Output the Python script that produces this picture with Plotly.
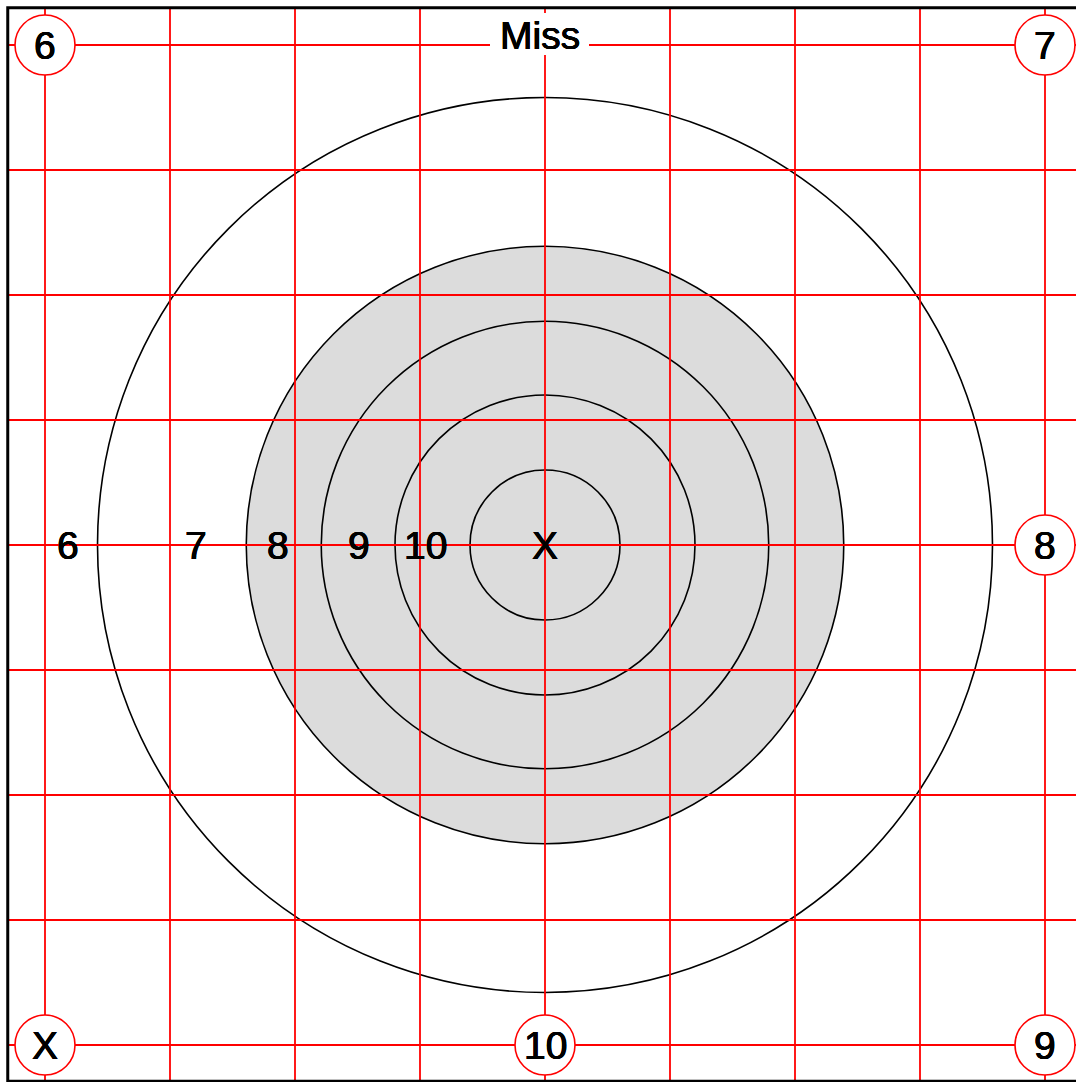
import plotly.graph_objects as go

# ---- data ----
grid_positions = [-4, -3, -2, -1, 0, 1, 2, 3, 4]
ring_radii = [0.6, 1.2, 1.79, 2.39, 3.58]          # X, 10, 9, 8(filled), outer
filled_ring_radius = 2.39
ring_labels = ["6", "7", "8", "9", "10", "X"]
ring_label_x = [-3.816, -2.792, -2.136, -1.488, -0.96, 0.0]
corner_labels = ["6", "7", "8", "9", "10", "X"]
corner_x = [-4, 4, 4, 4, 0, -4]
corner_y = [4, 4, 0, -4, -4, -4]
miss_label = "Miss"
miss_x, miss_y = -0.04, 4.08
miss_box = [-0.44, 0.352, 3.92, 4.256]   # x0, x1, y0, y1
frame_half = 4.3

FONT = "Liberation Sans"
RED = "#ff0000"
SHADOW = "0.45px 0 0 black, -0.45px 0 0 black, 0 0.45px 0 black, 0 -0.45px 0 black"

shapes = []
shapes.append(dict(type="circle", xref="x", yref="y",
                   x0=-filled_ring_radius, x1=filled_ring_radius,
                   y0=-filled_ring_radius, y1=filled_ring_radius,
                   fillcolor="#dcdcdc", line=dict(width=0), layer="below"))
for r in ring_radii:
    shapes.append(dict(type="circle", xref="x", yref="y", x0=-r, x1=r, y0=-r, y1=r,
                       line=dict(color="black", width=1.6), layer="above"))
for g in grid_positions:
    shapes.append(dict(type="line", xref="x", yref="y", x0=g, x1=g,
                       y0=-frame_half, y1=frame_half, line=dict(color=RED, width=1.8), layer="above"))
    shapes.append(dict(type="line", xref="x", yref="y", y0=g, y1=g,
                       x0=-frame_half, x1=frame_half, line=dict(color=RED, width=1.8), layer="above"))
cr = 0.24
for cx, cy in zip(corner_x, corner_y):
    shapes.append(dict(type="circle", xref="x", yref="y", x0=cx - cr, x1=cx + cr,
                       y0=cy - cr, y1=cy + cr, fillcolor="white",
                       line=dict(color=RED, width=1.6), layer="above"))
shapes.append(dict(type="rect", xref="x", yref="y", x0=miss_box[0], x1=miss_box[1],
                   y0=miss_box[2], y1=miss_box[3], fillcolor="white",
                   line=dict(width=0), layer="above"))
# frame (left / top / bottom edges)
shapes.append(dict(type="rect", xref="x", yref="y", x0=-4.298, x1=4.4,
                   y0=-4.29, y1=4.298,
                   line=dict(color="black", width=3), layer="above"))

annotations = []
for t, x in zip(ring_labels, ring_label_x):
    annotations.append(dict(x=x, y=0, xref="x", yref="y", text=t, showarrow=False,
                            xanchor="center", yanchor="middle",
                            font=dict(family=FONT, size=39, color="black", shadow=SHADOW)))
for t, x, y in zip(corner_labels, corner_x, corner_y):
    annotations.append(dict(x=x, y=y, xref="x", yref="y", text=t, showarrow=False,
                            xanchor="center", yanchor="middle",
                            font=dict(family=FONT, size=39, color="black", shadow=SHADOW)))
annotations.append(dict(x=miss_x, y=miss_y, xref="x", yref="y", text=miss_label,
                        showarrow=False, xanchor="center", yanchor="middle",
                        font=dict(family=FONT, size=39, color="black", shadow=SHADOW)))

fig = go.Figure()
fig.add_trace(go.Scatter(x=[0], y=[0], mode="markers", marker=dict(opacity=0),
                         hoverinfo="skip", showlegend=False))
fig.update_layout(
    width=1076, height=1082,
    margin=dict(l=0, r=0, t=0, b=0),
    paper_bgcolor="white", plot_bgcolor="white",
    xaxis=dict(range=[-4.36, 4.248], visible=False, fixedrange=True),
    yaxis=dict(range=[-4.296, 4.36], visible=False, fixedrange=True),
    shapes=shapes, annotations=annotations, showlegend=False,
)
fig.write_html("out.html",
               post_script="document.body.style.margin='0';"
                           "document.documentElement.style.overflow='hidden';"
                           "document.body.style.overflow='hidden';",
               config={"displayModeBar": False})
